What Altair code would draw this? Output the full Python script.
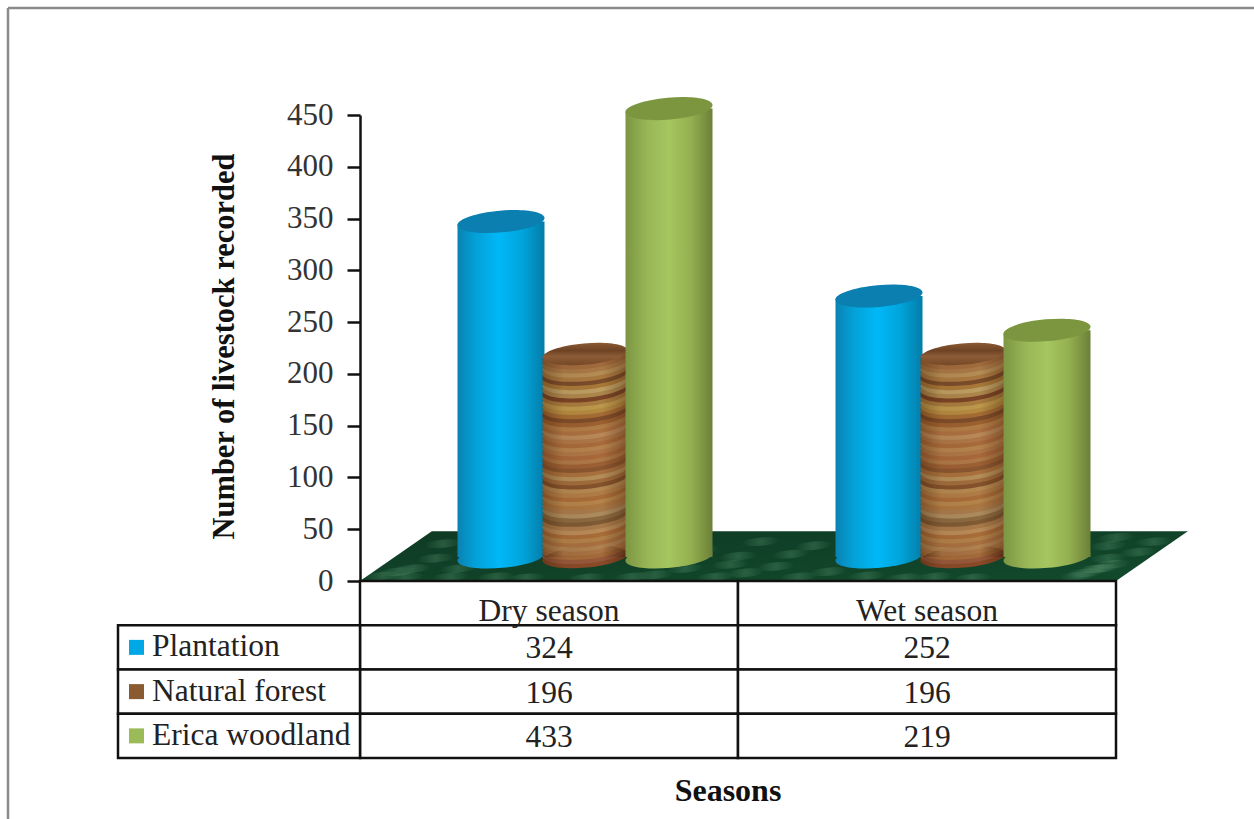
import altair as alt
import pandas as pd

# Table and cylinder values
seasons = ["Dry season", "Wet season"]
series = ["Plantation", "Natural forest", "Erica woodland"]
plantation = [324, 252]
natural_forest = [196, 196]
erica_woodland = [433, 219]
y_ticks = [0, 50, 100, 150, 200, 250, 300, 350, 400, 450]

swatch_colors = ["#00a8e6", "#8a5a30", "#9bbb59"]

# Wood rings of the natural-forest cylinders, bottom to top
ring_colors = [
    "#8a4a28", "#96583a", "#a46a3a", "#aa7444", "#b08250", "#a87040", "#b08048",
    "#a86c38", "#b88a58", "#a87a4a", "#7e5a34", "#8c6a40", "#ac8c5e", "#a87a4a",
    "#ac7640", "#b4844a", "#a86c38", "#b07c46", "#b48850", "#84522c", "#a06c3c",
    "#b48e58", "#a8703c", "#8a5630", "#9c6034", "#ae7846", "#a8683a", "#ae7646",
    "#b4824c", "#a86a3a", "#ae7646", "#b88858", "#ac7040", "#b07c46", "#9c6030",
    "#7e4c2a", "#a46c34", "#b48a40", "#bc984c", "#a87c3e", "#7a4426", "#ac864c",
    "#bc9e62", "#a87838", "#7a4c2a", "#a87840", "#b48c54", "#a87846", "#a06a3c",
]
ring_step = 4

# Floor outline: season units across, value units up
floor_x = [0, 0.19, 2, 2.19]
floor_top = [0, 48, 48, 48]
floor_bottom = [0, 0, 0, 48]

# Pale mottling on the floor
fleck_x = [0.06, 0.14, 0.24, 0.30, 0.12, 0.20, 0.22, 0.26, 0.36, 0.44, 0.78, 0.86, 0.94, 1.02,
           1.10, 1.16, 1.24, 1.00, 0.90, 1.06, 0.82, 0.98, 1.14, 1.34, 1.44, 1.90, 1.98, 1.96,
           2.10, 1.98, 2.06, 1.99, 1.95, 0.60, 0.72, 1.52, 1.62, 0.10, 2.00, 1.92, 0.76, 1.20]
fleck_y = [5, 12, 4, 30, 4, 22, 36, 12, 4, 3, 6, 12, 4, 8, 14, 4, 9, 24, 30, 38, 20, 16, 26,
           5, 3, 5, 22, 12, 38, 34, 28, 16, 12, 3, 4, 4, 3, 9, 42, 8, 40, 34]

PLOT_W = 756
PLOT_H = 643
AXIS_BOTTOM = 466
DEPTH_X = 36
DEPTH_Y = 24
CYL = 87
ELLIPSE = "M-1,0.09A1,0.25,-5,1,1,1,-0.09A1,0.25,-5,1,1,-1,0.09Z"
FLECK = "M-1,0.08A1,0.22,-5,1,1,1,-0.08A1,0.22,-5,1,1,-1,0.08Z"
FONT = "Liberation Serif"


def side_shade(stops):
    return alt.Gradient(
        gradient="linear", x1=0, x2=1, y1=0, y2=0,
        stops=[alt.GradientStop(offset=o, color=c) for o, c in stops],
    )


blue_side = side_shade([(0, "#0a82b2"), (0.2, "#04a0d6"), (0.48, "#00b8f8"),
                        (0.75, "#00a4da"), (1, "#047ca8")])
green_side = side_shade([(0, "#7c9642"), (0.25, "#98b656"), (0.5, "#a6c660"),
                         (0.75, "#94b050"), (1, "#6c8038")])
wood_shadow = side_shade([(0, "rgba(50,20,0,0.35)"), (0.25, "rgba(50,20,0,0.05)"),
                          (0.7, "rgba(50,20,0,0)"), (1, "rgba(50,20,0,0.35)")])
wood_cap = alt.Gradient(
    gradient="linear", x1=0, x2=0, y1=0, y2=1,
    stops=[alt.GradientStop(offset=0, color="#8a5a34"),
           alt.GradientStop(offset=0.35, color="#6e4224"),
           alt.GradientStop(offset=0.6, color="#8c5c36"),
           alt.GradientStop(offset=1, color="#754826")],
)
floor_fill = alt.Gradient(
    gradient="linear", x1=0, x2=1, y1=0, y2=1,
    stops=[alt.GradientStop(offset=0, color="#0f3a24"),
           alt.GradientStop(offset=1, color="#124a2c")],
)
fleck_fill = alt.Gradient(
    gradient="radial", x1=0.5, y1=0.5, x2=0.5, y2=0.5, r1=0, r2=0.5,
    stops=[alt.GradientStop(offset=0, color="rgba(110,170,130,0.28)"),
           alt.GradientStop(offset=1, color="rgba(110,170,130,0)")],
)

cyl_df = pd.DataFrame(
    [{"season": s, "series": name, "value": vals[i], "base": 0}
     for name, vals in zip(series, [plantation, natural_forest, erica_woodland])
     for i, s in enumerate(seasons)]
)
ring_df = pd.DataFrame(
    [{"season": s, "series": series[1], "level": i * ring_step, "color": c}
     for s in seasons for i, c in enumerate(ring_colors)]
)
floor_df = pd.DataFrame({"x": floor_x, "top": floor_top, "bottom": floor_bottom})
fleck_df = pd.DataFrame({"x": fleck_x, "y": fleck_y})

cell_df = pd.DataFrame(
    [{"season": s, "row": "header", "text": s} for s in seasons]
    + [{"season": s, "row": name, "text": str(vals[i])}
       for name, vals in zip(series, [plantation, natural_forest, erica_woodland])
       for i, s in enumerate(seasons)]
)
label_df = pd.DataFrame({"row": series, "color": swatch_colors})

# Shifted scales set the cylinders back on the floor
cx = alt.X("season:N", axis=None,
           scale=alt.Scale(domain=seasons, range=[DEPTH_X, PLOT_W + DEPTH_X],
                           paddingInner=0, paddingOuter=0))
cx_off = alt.XOffset("series:N", scale=alt.Scale(domain=series, range=[63, 315]))
cy_scale = alt.Scale(domain=[0, 450], range=[AXIS_BOTTOM - DEPTH_Y, -DEPTH_Y], nice=False, zero=False)
cy = alt.Y("value:Q", axis=None, scale=cy_scale)
cy_base = alt.Y("base:Q", axis=None, scale=cy_scale)
cy2 = alt.Y2("base:Q")

table_x = alt.X("season:N", axis=None,
                scale=alt.Scale(domain=seasons, range=[0, PLOT_W], paddingInner=0, paddingOuter=0))
table_y = alt.Y("row:N", axis=None,
                scale=alt.Scale(domain=["header"] + series, range=[AXIS_BOTTOM, PLOT_H],
                                paddingInner=0, paddingOuter=0))
floor_x_scale = alt.Scale(domain=[0, 2], range=[0, PLOT_W], nice=False, zero=False)
value_scale = alt.Scale(domain=[0, 450], range=[AXIS_BOTTOM, 0], nice=False, zero=False)


def plain_cylinder(name, side, cap):
    d = cyl_df[cyl_df["series"] == name]
    return [
        alt.Chart(d).mark_point(shape=ELLIPSE, size=CYL ** 2, filled=True, fill=side, opacity=1)
        .encode(x=cx, xOffset=cx_off, y=cy_base),
        alt.Chart(d).mark_bar(size=CYL, fill=side, cornerRadiusTopLeft=4)
        .encode(x=cx, xOffset=cx_off, y=cy, y2=cy2),
        alt.Chart(d).mark_point(shape=ELLIPSE, size=CYL ** 2, filled=True, fill=cap, opacity=1)
        .encode(x=cx, xOffset=cx_off, y=cy),
    ]


wood_d = cyl_df[cyl_df["series"] == series[1]]
wood_layers = [
    alt.Chart(ring_df).mark_point(shape=ELLIPSE, size=85 ** 2, filled=True, opacity=1).encode(
        x=cx, xOffset=cx_off,
        y=alt.Y("level:Q", axis=None, scale=cy_scale),
        fill=alt.Fill("color:N", scale=None),
        order=alt.Order("level:Q"),
    ),
    alt.Chart(wood_d).mark_point(shape=ELLIPSE, size=85 ** 2, filled=True, fill=wood_shadow, opacity=1)
    .encode(x=cx, xOffset=cx_off, y=cy_base),
    alt.Chart(wood_d).mark_bar(size=85, fill=wood_shadow, cornerRadiusTopLeft=4)
    .encode(x=cx, xOffset=cx_off, y=cy, y2=cy2),
    alt.Chart(wood_d).mark_point(shape=ELLIPSE, size=85 ** 2, filled=True, fill=wood_cap, opacity=1)
    .encode(x=cx, xOffset=cx_off, y=cy),
]

# Slide border: only its top and left edges fall inside the page
one_row = pd.DataFrame({"a": [0]})
frame_top = alt.Chart(one_row).mark_rule(color="#8a8a8a", strokeWidth=2.5).encode(
    x=alt.value(-352), x2=alt.value(894), y=alt.value(-107)
)
frame_left = alt.Chart(one_row).mark_rule(color="#8a8a8a", strokeWidth=2.5).encode(
    x=alt.value(-352), y=alt.value(-107), y2=alt.value(704)
)

floor = alt.Chart(floor_df).mark_area(fill=floor_fill, line=False, opacity=1).encode(
    x=alt.X("x:Q", axis=None, scale=floor_x_scale),
    y=alt.Y("top:Q", axis=None, scale=value_scale),
    y2="bottom:Q",
)
flecks = alt.Chart(fleck_df).mark_point(
    shape=FLECK, size=1400, filled=True, fill=fleck_fill, opacity=1
).encode(
    x=alt.X("x:Q", axis=None, scale=floor_x_scale),
    y=alt.Y("y:Q", axis=None, scale=value_scale),
)

value_axis = alt.Chart(pd.DataFrame({"tick": y_ticks})).mark_point(opacity=0).encode(
    y=alt.Y(
        "tick:Q", scale=value_scale,
        axis=alt.Axis(
            values=y_ticks, title="Number of livestock recorded", grid=False,
            domainColor="#111111", domainWidth=2.5, tickColor="#111111", tickWidth=2.5, tickSize=13,
            labelFont=FONT, labelFontSize=31, labelColor="#333333", labelPadding=14,
            titleFont=FONT, titleFontSize=30.5, titleFontWeight="bold", titleColor="#111111",
            titleX=-136, titleY=231, titleAlign="center", titleBaseline="middle", titleAngle=270,
        ),
    ),
)

cells = alt.Chart(cell_df).mark_rect(fill="white", stroke="#111111", strokeWidth=2.5).encode(
    x=table_x, y=table_y
)
label_cells = alt.Chart(label_df).mark_rect(fill="white", stroke="#111111", strokeWidth=2.5).encode(
    x=alt.value(-242), x2=alt.value(0), y=table_y
)
swatches = alt.Chart(label_df).mark_square(size=225, opacity=1).encode(
    x=alt.value(-223.5), y=table_y, fill=alt.Fill("color:N", scale=None)
)
row_labels = alt.Chart(label_df).mark_text(
    font=FONT, fontSize=31.5, align="left", baseline="middle", color="#222222", dy=0
).encode(x=alt.value(-208), y=table_y, text="row:N")
value_text = alt.Chart(cell_df[cell_df["row"] != "header"]).mark_text(
    font=FONT, fontSize=31.5, baseline="middle", color="#222222", dy=2
).encode(x=table_x, y=table_y, text="text:N")
header_text = alt.Chart(cell_df[cell_df["row"] == "header"]).mark_text(
    font=FONT, fontSize=31.5, baseline="middle", color="#222222", dy=9
).encode(x=table_x, y=table_y, text="text:N")
x_title = alt.Chart(pd.DataFrame({"t": ["Seasons"]})).mark_text(
    font=FONT, fontSize=32, fontWeight="bold", baseline="middle", color="#111111"
).encode(x=alt.value(368), y=alt.value(676), text="t:N")

layers = (
    [frame_top, frame_left, floor, flecks, value_axis]
    + plain_cylinder(series[0], blue_side, "#0a7fb0")
    + wood_layers
    + plain_cylinder(series[2], green_side, "#7b963f")
    + [cells, label_cells, swatches, row_labels, value_text, header_text, x_title]
)

chart = (
    alt.layer(*layers)
    .resolve_scale(x="independent", y="independent", xOffset="independent", fill="independent")
    .resolve_axis(y="independent")
    .properties(
        width=PLOT_W, height=PLOT_H,
        autosize=alt.AutoSizeParams(type="none"),
        padding={"left": 360, "top": 115, "right": 138, "bottom": 61},
        background="white",
    )
    .configure_view(stroke=None)
)

chart.save("out.html", embed_options={"renderer": "svg", "actions": False})
